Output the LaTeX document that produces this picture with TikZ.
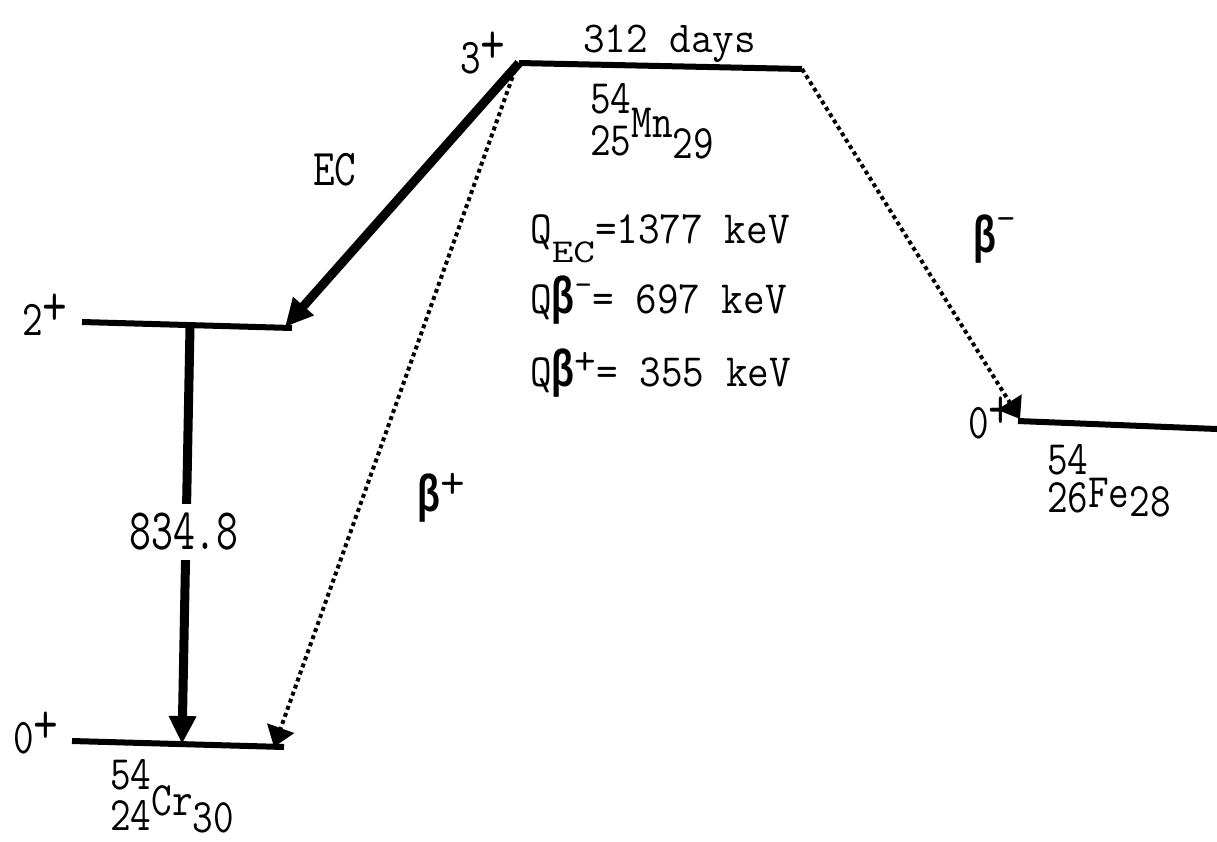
\documentclass[tikz,border=0pt]{standalone}
\usepackage{fontspec}
\usepackage{graphicx}
\usetikzlibrary{arrows.meta}
\newfontfamily\bfnt{Liberation Sans}
\newcommand{\sz}[1]{\fontsize{#1}{#1}\selectfont}
\newcommand{\yst}[2]{\scalebox{1}[#1]{#2}}
\newcommand{\bet}{\scalebox{0.72}[1]{\sz{52}\bfnt\bfseries β}}
\newcommand{\nuc}[7]{\rlap{\raisebox{#5pt}{#1}}#2\raisebox{#6pt}{#3}\raisebox{#7pt}{#4}}
\newcommand{\spin}[1]{#1\raisebox{8pt}{\sz{48}+}}
\tikzset{
  lvl/.style={line width=6pt},
  strong/.style={line width=9pt, -{Triangle[length=28pt,width=26pt]}},
  dots/.style={line width=4pt, dash pattern=on 4pt off 3.5pt, -{Triangle[length=20pt,width=28pt]}},
  txt/.style={inner sep=0pt, font={\sz{40}\ttfamily}},
}
\begin{document}
\begin{tikzpicture}[x=1pt,y=-1pt]
\fill[white] (0,0) rectangle (1217,841);
\useasboundingbox (0,0) rectangle (1217,841);
% level end points
\coordinate (mnL) at (519,63);
\coordinate (mnR) at (802,69);
\coordinate (c2L) at (82,322);
\coordinate (c2R) at (292,328);
\coordinate (c0L) at (72,741);
\coordinate (c0R) at (284,747);
\coordinate (feL) at (1018,421);
\coordinate (feR) at (1217,429);
% transition end points
\coordinate (ecE) at (285,327);
\coordinate (gT) at (190,327);
\coordinate (gB) at (182,744);
\coordinate (bpS) at (515,70);
\coordinate (bpE) at (274,747);
\coordinate (bmE) at (1020,419);
% levels
\draw[lvl] (mnL) -- (mnR);
\draw[lvl] (c2L) -- (c2R);
\draw[lvl] (c0L) -- (c0R);
\draw[lvl] (feL) -- (feR);
% transitions
\draw[strong] (mnL) -- (ecE);
\draw[strong] (gT) -- (gB);
\draw[dots] (bpS) -- (bpE);
\draw[dots] (mnR) -- (bmE);
% labels
\node[txt, anchor=base west] (hl) at (583,52) {\yst{1.05}{\sz{42}312 days}};
\node[txt, anchor=base west] (s3) at (460,73) {\yst{1.25}{\spin{3}}};
\node[txt, anchor=base west] (s2) at (22,335) {\yst{1.25}{\spin{2}}};
\node[txt, anchor=base west] (s0c) at (13,753) {\yst{1.25}{\spin{0}}};
\node[txt, anchor=base west] (s0f) at (968,438) {\yst{1.25}{\spin{0}}};
\node[txt, anchor=base west] (mn) at (590,155) {\yst{1.2}{\nuc{54}{25}{Mn}{29}{35}{15}{-3}}};
\node[txt, anchor=base west] (cr) at (110,830) {\yst{1.2}{\nuc{54}{24}{Cr}{30}{34}{12}{-2}}};
\node[txt, anchor=base west] (fe) at (1047,512) {\yst{1.2}{\nuc{54}{26}{Fe}{28}{31}{4}{-4}}};
\node[txt, anchor=base west] (ec) at (313,185) {\yst{1.23}{\sz{42}EC}};
\node[txt, fill=white, inner ysep=9pt] (gl) at (184,532) {\yst{1.38}{\sz{42.5}834.8}};
\node[txt, anchor=base west] (bp) at (417,511) {\bet\raisebox{13pt}{\sz{48}+}};
\node[txt, anchor=base west] (bm) at (973,252) {\bet\raisebox{22pt}{\sz{38}-}};
\node[txt, anchor=base west] (q1) at (530,243) {\yst{1.1}{\sz{42}Q\raisebox{-18pt}{\yst{0.72}{EC}}=1377 keV}};
\node[txt, anchor=base west] (q2) at (530,313) {\yst{1.1}{\sz{42}Q}\bet\raisebox{18pt}{\sz{34}-}\yst{1.1}{\sz{42}= 697 keV}};
\node[txt, anchor=base west] (q3) at (530,386) {\yst{1.1}{\sz{42}Q}\bet\raisebox{12pt}{\sz{42}+}\yst{1.1}{\sz{42}= 355 keV}};
\end{tikzpicture}
\end{document}
